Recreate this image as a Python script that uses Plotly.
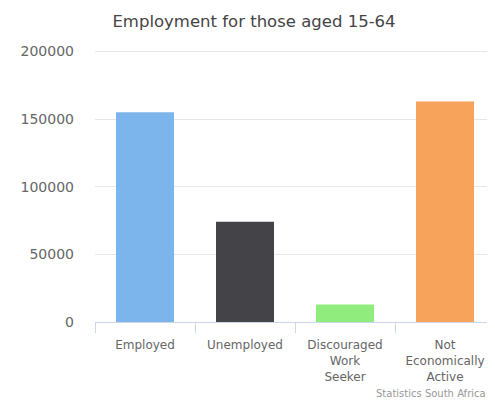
import plotly.graph_objects as go

categories = ["Employed", "Unemployed", "Discouraged<br>Work<br>Seeker", "Not<br>Economically<br>Active"]
values = [155000, 74000, 13000, 163000]
colors = ["#7cb5ec", "#434348", "#90ed7d", "#f7a35c"]
y_ticks = [0, 50000, 100000, 150000, 200000]

# page body has an 8px default margin; margins compensate so the plot sits where the reference's does
fig = go.Figure(go.Bar(x=categories, y=values, marker=dict(color=colors, line=dict(width=0)), width=0.58))

fig.update_layout(
    width=495, height=404,
    margin=dict(l=87, r=8, t=42, b=90),
    paper_bgcolor="white", plot_bgcolor="white",
    showlegend=False,
    title=dict(text="Employment for those aged 15-64", x=0.497, xanchor="center", y=0.968, yanchor="middle",
               font=dict(family="DejaVu Sans", size=16.5, color="#444444")),
    font=dict(family="DejaVu Sans", color="#666666"),
    xaxis=dict(showline=True, linecolor="#ccd6eb", ticks="outside", tickson="boundaries", ticklen=10,
               tickcolor="#ccd6eb", tickfont=dict(size=12, color="#666666"), showgrid=False,
               ticklabelstandoff=12),
    yaxis=dict(range=[0, 201000], tickvals=y_ticks, ticktext=[str(v) for v in y_ticks], gridcolor="#e6e6e6",
               zeroline=False, tickfont=dict(size=14, color="#666666"), ticklabelstandoff=20),
    annotations=[dict(text="Statistics South Africa", xref="paper", yref="paper", x=0.697, y=-0.262,
                      xanchor="left", yanchor="middle", showarrow=False,
                      font=dict(size=10, color="#999999"))],
)

fig.write_html("out.html")
